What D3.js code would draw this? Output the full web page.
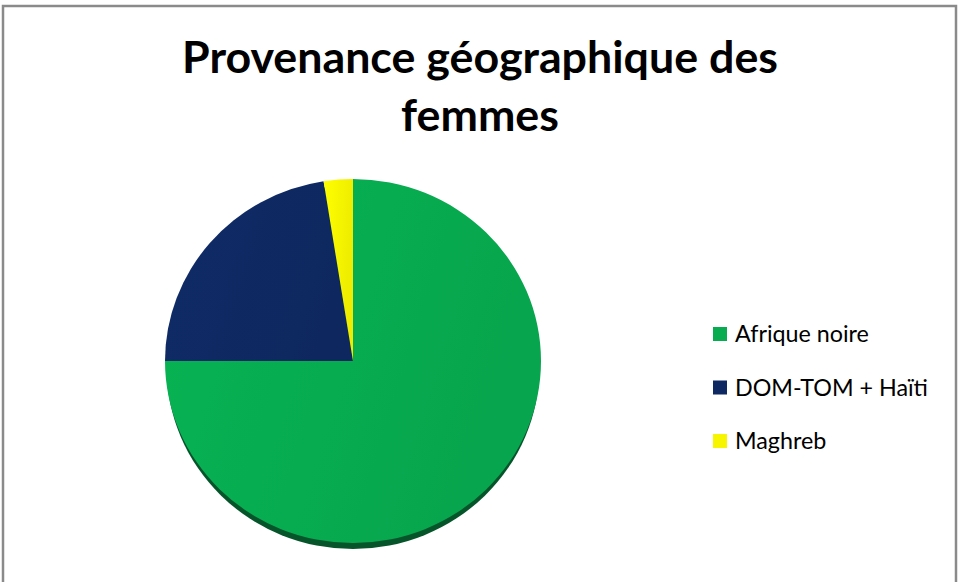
<!DOCTYPE html>
<meta charset="utf-8">
<body style="margin:0;background:#fff">
<script src="https://d3js.org/d3.v7.min.js"></script>
<svg></svg>
<script>
    var width = 959;
    var height = 582;

    // data (percent of women)
    var categories = ["Afrique noire", "DOM-TOM + Haïti", "Maghreb"];
    var values = [75, 22.5, 2.5];
    var colors = ["#07ab50", "#0e2962", "#f7f500"];
    var titleLines = ["Provenance géographique des", "femmes"];

    var svg = d3.select("svg")
        .attr("width", width)
        .attr("height", height)
        .style("display", "block");

    // chart frame (bottom edge falls outside the picture)
    svg.append("rect")
        .attr("x", 3).attr("y", 6)
        .attr("width", 953).attr("height", 600)
        .attr("fill", "#fff")
        .attr("stroke", "#8a8a8a")
        .attr("stroke-width", 2.5);

    // title
    var title = svg.append("text")
        .attr("text-anchor", "middle")
        .style("font-family", "Lato, 'Open Sans', sans-serif")
        .style("font-weight", "bold")
        .style("font-size", "44px")
        .attr("fill", "#000");
    title.selectAll("tspan").data(titleLines).enter().append("tspan")
        .attr("x", 480)
        .attr("y", function(d, i) { return 73 + i * 58; })
        .text(function(d) { return d; });
    // squeeze to the width of the original title
    var w0 = title.select("tspan").node().getComputedTextLength();
    title.style("font-size", (44 * 596 / w0) + "px");

    // gradients for the slightly lit pie faces
    var defs = svg.append("defs");
    colors.forEach(function(c, i) {
        var g = defs.append("linearGradient").attr("id", "g" + i)
            .attr("x1", 0).attr("y1", 0).attr("x2", 1).attr("y2", 0.3);
        g.append("stop").attr("offset", 0).attr("stop-color", d3.color(c).brighter(0.15));
        g.append("stop").attr("offset", 1).attr("stop-color", d3.color(c).darker(0.1));
    });

    var cx = 353, cy = 361, r = 188, squash = 182 / 188;

    var pie = d3.pie().sort(null).value(function(d) { return d; });
    var arc = d3.arc().innerRadius(0).outerRadius(r);
    var arcs = pie(values);

    // dark rim under the pie
    svg.append("ellipse")
        .attr("cx", cx).attr("cy", cy + 6)
        .attr("rx", r - 1.5).attr("ry", r * squash)
        .attr("fill", "#06542a");

    var g = svg.append("g")
        .attr("transform", "translate(" + cx + "," + cy + ") scale(1," + squash + ")");

    g.selectAll("path").data(arcs).enter().append("path")
        .attr("d", arc)
        .attr("fill", function(d, i) { return "url(#g" + i + ")"; });

    // legend
    var legend = svg.append("g").attr("transform", "translate(713,327)");
    var items = legend.selectAll("g").data(categories).enter().append("g")
        .attr("transform", function(d, i) { return "translate(0," + (i * 53.5) + ")"; });
    items.append("rect")
        .attr("width", 14).attr("height", 14)
        .attr("fill", function(d, i) { return colors[i]; });
    items.append("text")
        .attr("x", 22).attr("y", 15)
        .style("font-family", "Lato, 'Open Sans', sans-serif")
        .style("font-size", "23px")
        .attr("fill", "#000")
        .text(function(d) { return d; });
    var lw = items.filter(function(d, i) { return i === 1; }).select("text").node().getComputedTextLength();
    items.selectAll("text").style("font-size", (23 * 193 / lw) + "px");
</script>
